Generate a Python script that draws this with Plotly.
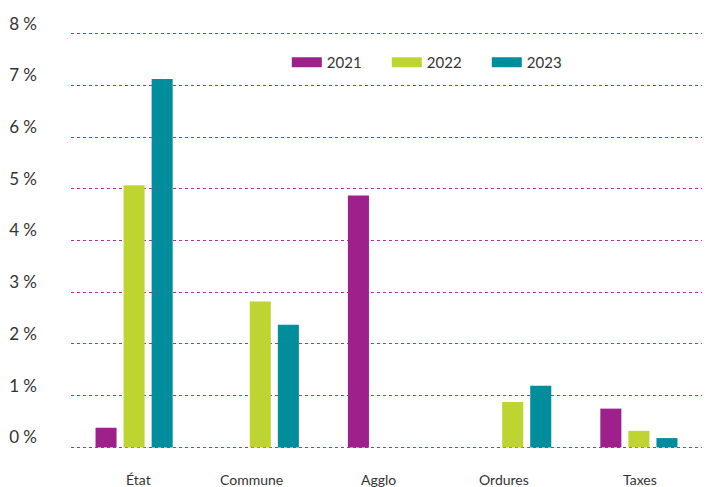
import plotly.graph_objects as go

categories = ["État", "Commune", "Agglo", "Ordures", "Taxes"]
years = ["2021", "2022", "2023"]
values_2021 = [0.38, None, 4.87, None, 0.75]
values_2022 = [5.07, 2.82, None, 0.88, 0.32]
values_2023 = [7.12, 2.37, None, 1.19, 0.18]
colors = ["#9e218b", "#bed531", "#008d9c"]
y_ticks = [0, 1, 2, 3, 4, 5, 6, 7, 8]
y_ticktext = [f"{v} %" for v in y_ticks]

fig = go.Figure()
for name, vals, col in zip(years, [values_2021, values_2022, values_2023], colors):
    fig.add_trace(go.Bar(x=categories, y=vals, name=name, marker_color=col,
                         marker_line_width=0, showlegend=False))
# legend entries (wide swatches)
for name, col in zip(years, colors):
    fig.add_trace(go.Scatter(x=[None], y=[None], mode="lines", name=name,
                             line=dict(color=col, width=11), showlegend=True))

# category labels (slightly off-centre in the original)
label_xshift = [4, -9, -8, -9, 1]
for cat, dx in zip(categories, label_xshift):
    fig.add_annotation(x=cat, y=0, xref="x", yref="y", text=cat, showarrow=False,
                       xanchor="center", yanchor="middle", xshift=dx, yshift=-32,
                       font=dict(family="Lato", size=14, color="#333333"))

fig.update_layout(
    width=703, height=479,
    margin=dict(l=63, r=9, t=23.4, b=36.9, autoexpand=False),
    paper_bgcolor="white", plot_bgcolor="white",
    font=dict(family="Lato", size=15, color="#333333"),
    barmode="group", bargap=0.333, bargroupgap=0.25,
    showlegend=True,
    legend=dict(orientation="h", x=0.342, xanchor="left", y=0.925, yanchor="middle",
                font=dict(size=15, color="#333333"), entrywidth=55,
                bgcolor="rgba(0,0,0,0)"),
    xaxis=dict(showgrid=False, showline=False, zeroline=False, ticks="",
               automargin=False, showticklabels=False),
    yaxis=dict(range=[-0.05, 8.05], tickvals=y_ticks, ticktext=y_ticktext,
               showgrid=True, gridcolor="#b0309b", griddash="dot", gridwidth=1,
               zeroline=False, showline=False, ticks="", automargin=False,
               ticklabelstandoff=33, ticklabelshift=-10,
               tickfont=dict(size=17, color="#333333")),
)
fig.write_html("out.html")
